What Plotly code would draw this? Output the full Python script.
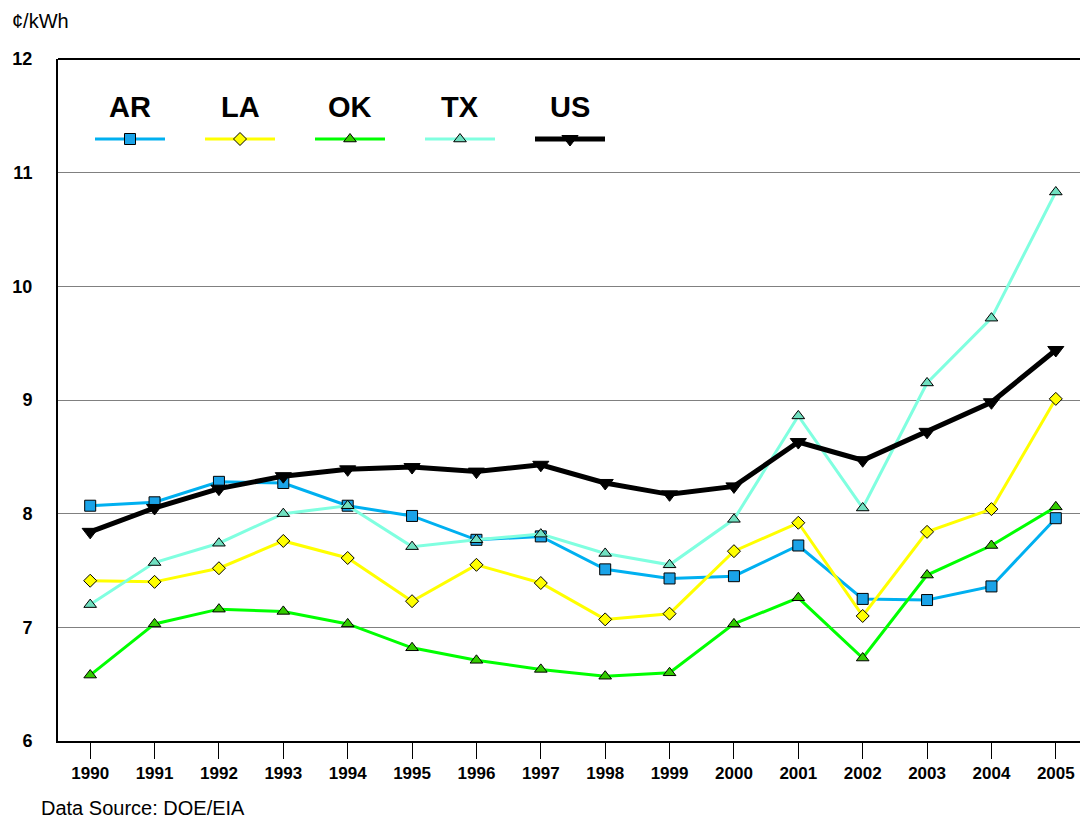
import plotly.graph_objects as go

years = [str(y) for y in range(1990, 2006)]
AR = [8.07, 8.10, 8.28, 8.27, 8.07, 7.98, 7.77, 7.80, 7.51, 7.43, 7.45, 7.72, 7.25, 7.24, 7.36, 7.96]
LA = [7.41, 7.40, 7.52, 7.76, 7.61, 7.23, 7.55, 7.39, 7.07, 7.12, 7.67, 7.92, 7.10, 7.84, 8.04, 9.01]
OK = [6.58, 7.03, 7.16, 7.14, 7.03, 6.82, 6.71, 6.63, 6.57, 6.60, 7.03, 7.26, 6.73, 7.46, 7.72, 8.06]
TX = [7.20, 7.57, 7.74, 8.00, 8.07, 7.71, 7.77, 7.82, 7.65, 7.55, 7.95, 8.86, 8.05, 9.15, 9.72, 10.83]
US = [7.84, 8.05, 8.22, 8.33, 8.39, 8.41, 8.37, 8.43, 8.27, 8.17, 8.24, 8.63, 8.47, 8.72, 8.98, 9.44]
yticks = [6, 7, 8, 9, 10, 11, 12]

# page is 1088x820; the html body has an 8px margin
OFF = 8
PAGE_W, PAGE_H = 1088, 820
W, H = PAGE_W - OFF, PAGE_H - OFF
# plot area in page pixels
L, R, T, B = 58, 1088, 59, 741

def px(x):
    return (x - L) / (R - L)

def py(y):
    return (B - y) / (B - T)

series = [
    dict(name="AR", y=AR, line="#00B0F0", fill="#1AA3E8", symbol="square", size=11, width=3),
    dict(name="LA", y=LA, line="#FFFF00", fill="#FFFF00", symbol="diamond", size=10, width=3),
    dict(name="OK", y=OK, line="#00FF00", fill="#33CC00", symbol="triangle-up", size=11, width=3),
    dict(name="TX", y=TX, line="#80FFE0", fill="#70E0C0", symbol="triangle-up", size=11, width=3),
    dict(name="US", y=US, line="#000000", fill="#000000", symbol="triangle-down", size=14, width=5),
]

fig = go.Figure()
for s in series:
    fig.add_trace(go.Scatter(
        x=years, y=s["y"], mode="lines+markers", name=s["name"],
        line=dict(color=s["line"], width=s["width"]),
        marker=dict(symbol=s["symbol"], size=s["size"], color=s["fill"],
                    line=dict(color="#000000", width=1)),
        showlegend=False, cliponaxis=False,
    ))

# custom legend: labels above line samples, drawn on an overlay axis
leg_center0, leg_step, leg_half = 130, 110, 35
leg_line_y, leg_text_y = 139, 107
for i, s in enumerate(series):
    cx = leg_center0 + i * leg_step
    fig.add_trace(go.Scatter(
        x=[px(cx - leg_half), px(cx + leg_half)], y=[py(leg_line_y)] * 2,
        xaxis="x2", yaxis="y2", mode="lines",
        line=dict(color=s["line"], width=s["width"]), showlegend=False, hoverinfo="skip"))
    fig.add_trace(go.Scatter(
        x=[px(cx)], y=[py(leg_line_y)], xaxis="x2", yaxis="y2", mode="markers",
        marker=dict(symbol=s["symbol"], size=s["size"], color=s["fill"],
                    line=dict(color="#000000", width=1)),
        showlegend=False, hoverinfo="skip"))
    fig.add_annotation(x=px(cx), y=py(leg_text_y), xref="paper", yref="paper",
                       text="<b>%s</b>" % s["name"], showarrow=False,
                       font=dict(size=29, color="#000000"), xanchor="center", yanchor="middle")

fig.add_annotation(x=px(10), y=py(21), xref="paper", yref="paper", text="¢/kWh",
                   showarrow=False, xanchor="left", yanchor="middle",
                   font=dict(size=20, color="#000000"))
fig.add_annotation(x=px(39), y=py(808), xref="paper", yref="paper", text="Data Source: DOE/EIA",
                   showarrow=False, xanchor="left", yanchor="middle",
                   font=dict(size=20, color="#000000"))

fig.update_layout(
    width=W, height=H,
    margin=dict(l=L - OFF, r=PAGE_W - R, t=T - OFF, b=PAGE_H - B),
    paper_bgcolor="white", plot_bgcolor="white",
    font=dict(family="Liberation Sans, Arial, sans-serif", color="#000000"),
    xaxis=dict(type="category", range=[-0.5, 15.5], showgrid=False,
               ticks="outside", ticklen=16, tickcolor="#000000", tickwidth=1,
               tickfont=dict(size=17, weight="bold"),
               showline=True, linecolor="#000000", linewidth=2, mirror=False,
               zeroline=False, fixedrange=True),
    yaxis=dict(range=[6, 12], tickvals=yticks, ticktext=["<b>%d</b>" % v for v in yticks],
               tickfont=dict(size=18), showgrid=True, gridcolor="#808080", gridwidth=1,
               showline=True, linecolor="#000000", linewidth=2, mirror=False,
               ticks="", ticklabelstandoff=20, zeroline=False, fixedrange=True),
    xaxis2=dict(overlaying="x", range=[0, 1], visible=False, fixedrange=True),
    yaxis2=dict(overlaying="y", range=[0, 1], visible=False, fixedrange=True),
    shapes=[dict(type="line", xref="paper", yref="paper", x0=0, x1=1, y0=1, y1=1,
                 line=dict(color="#000000", width=2))],
)

fig.write_html("out.html")
